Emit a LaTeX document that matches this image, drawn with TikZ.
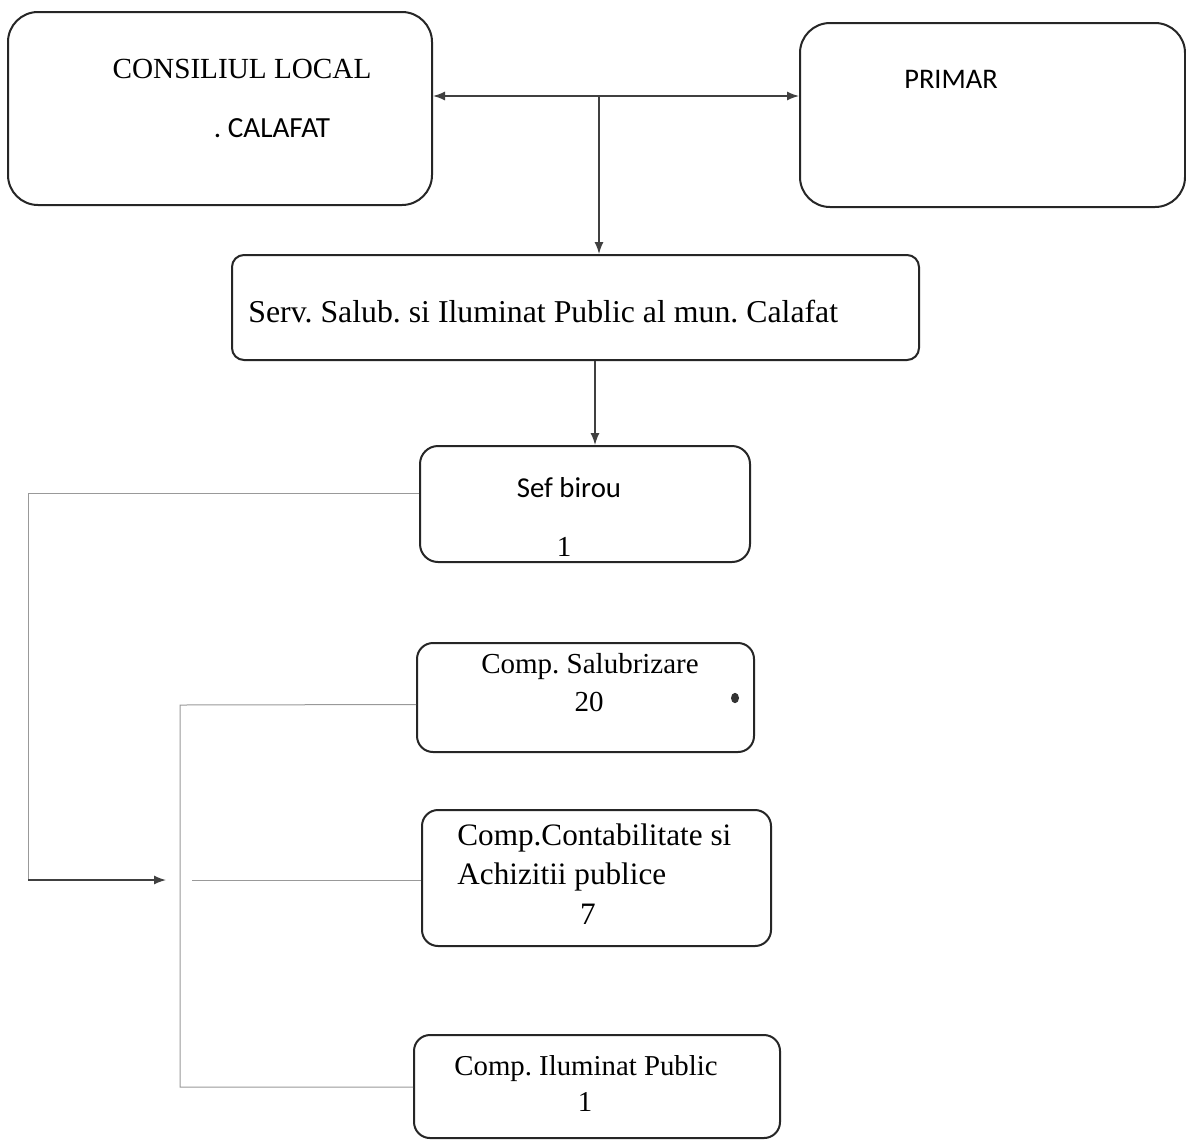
\documentclass[tikz,border=0pt]{standalone}
\usepackage{fontspec}
\setmainfont{Liberation Serif}
\newfontfamily\calfont{Carlito}
\usetikzlibrary{arrows.meta}
\frenchspacing
\begin{document}
\begin{tikzpicture}[x=0.5pt,y=-0.5pt,
  box/.style={draw=black!85,line width=1pt,rectangle,inner sep=0pt},
  conn/.style={draw=black!75,line width=0.7pt},
  thin/.style={draw=black!40,line width=0.5pt},
  tip/.style={-{Latex[length=6pt,width=4.5pt]}},
  tipb/.style={{Latex[length=6pt,width=4.5pt]}-{Latex[length=6pt,width=4.5pt]}},
  lbl/.style={inner sep=0pt,anchor=center}]
\useasboundingbox[fill=white] (0,0) rectangle (1186,1140);
% boxes
\node[box,rounded corners=15pt,minimum width=212pt,minimum height=96.5pt] (cl) at (220,108.5) {};
\node[box,rounded corners=15pt,minimum width=192.5pt,minimum height=92pt] (pr) at (992.5,115) {};
\node[box,rounded corners=6pt,minimum width=343.5pt,minimum height=52.5pt] (sv) at (575.5,307.5) {};
\node[box,rounded corners=9pt,minimum width=165pt,minimum height=58pt] (sb) at (585,504) {};
\node[box,rounded corners=8pt,minimum width=168.5pt,minimum height=54.5pt] (cs) at (585.5,697.5) {};
\node[box,rounded corners=8pt,minimum width=174.5pt,minimum height=68pt] (cc) at (596.5,878) {};
\node[box,rounded corners=8pt,minimum width=183pt,minimum height=51.5pt] (ci) at (597,1086.5) {};
% texts
\node[lbl,font=\fontsize{14.6}{17}\selectfont] (t1) at (242,69) {CONSILIUL LOCAL};
\node[lbl,font=\calfont\fontsize{14.6}{17}\selectfont] (t2) at (272,128) {. CALAFAT};
\node[lbl,font=\calfont\fontsize{14.2}{17}\selectfont] (t3) at (951,79) {PRIMAR};
\node[lbl,anchor=west,font=\fontsize{15.9}{19}\selectfont] (t4) at (248,312) {Serv. Salub. si Iluminat Public al mun. Calafat};
\node[lbl,font=\calfont\fontsize{14.4}{17}\selectfont] (t5) at (569,488) {Sef birou};
\node[lbl,font=\fontsize{14.5}{17}\selectfont] (t6) at (564,547) {1};
\node[lbl,font=\fontsize{14.5}{17}\selectfont] (t7) at (590,667) {Comp. Salubrizare};
\node[lbl,font=\fontsize{14.5}{17}\selectfont] (t8) at (589,702) {20};
\node[lbl,anchor=west,font=\fontsize{15.6}{19}\selectfont] (t9) at (457,838) {Comp.Contabilitate si};
\node[lbl,anchor=west,font=\fontsize{15.6}{19}\selectfont] (t10) at (457,877) {Achizitii publice};
\node[lbl,font=\fontsize{15.6}{19}\selectfont] (t11) at (588,914) {7};
\node[lbl,font=\fontsize{14.4}{17}\selectfont] (t12) at (586,1069) {Comp. Iluminat Public};
\node[lbl,font=\fontsize{14.4}{17}\selectfont] (t13) at (585,1102) {1};
\fill[black!80] (735,698) ellipse (2pt and 2.6pt);
% coordinates
\coordinate (j) at (599,96);
\coordinate (k) at (595,0);
\coordinate (busL) at (28,880);
\coordinate (arr) at (166,880);
\coordinate (bt) at (180,705);
\coordinate (bm) at (180,880);
\coordinate (bb) at (180,1087);
% connectors
\draw[conn,tipb] (cl.east |- j) -- (pr.west |- j);
\draw[conn,tip] (j) -- (sv.north -| j);
\draw[conn,tip] (sv.south -| k) -- (sb.north -| k);
\draw[thin] ([yshift=5.5pt]sb.west) -| (busL);
\draw[conn,tip] (busL) -- (arr);
\draw[thin] ([yshift=-3.5pt]cs.west) -- (bt) -- (bb) -- (ci.west |- bb);
\draw[thin] ([xshift=6pt]bm) -- (cc.west |- bm);
\end{tikzpicture}
\end{document}
